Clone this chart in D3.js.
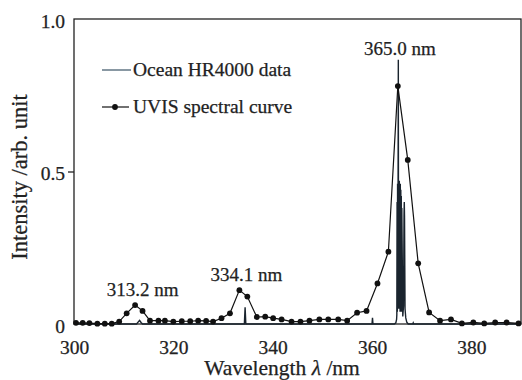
<!DOCTYPE html>
<html>
<head>
<meta charset="utf-8">
<script src="https://cdn.jsdelivr.net/npm/d3@7"></script>
<style>
  body { margin: 0; background: #fff; }
  svg text { stroke: #222; stroke-width: 0.25px; }
</style>
</head>
<body>
<svg id="canvas"></svg>
<script>
// UVIS spectral curve (sampled points)
let uvWl = [300.4, 301.75, 303.1, 304.7, 306.2, 307.6, 309.1, 310.6, 312.3, 313.8,
            315.3, 317.0, 318.3, 320.0, 321.7, 323.4, 325.0, 326.6, 328.0, 329.7,
            331.4, 333.3, 334.9, 336.8, 338.5, 340.1, 341.8, 343.8, 345.6, 347.4,
            349.4, 351.2, 353.2, 355.0, 357.0, 358.9, 361.1, 363.3, 365.2, 367.2,
            369.3, 371.5, 373.7, 375.9, 378.1, 380.4, 382.6, 384.8, 387.1, 389.5];
let uvInt = [0.004, 0.004, 0.003, 0.001, 0.001, 0.001, 0.008, 0.035, 0.062, 0.043,
             0.011, 0.011, 0.011, 0.008, 0.009, 0.009, 0.011, 0.010, 0.008, 0.019,
             0.035, 0.111, 0.090, 0.023, 0.024, 0.019, 0.015, 0.008, 0.008, 0.011,
             0.015, 0.015, 0.015, 0.011, 0.037, 0.043, 0.133, 0.237, 0.780, 0.538,
             0.199, 0.038, 0.011, 0.015, 0.002, 0.005, 0.002, 0.005, 0.005, 0.002];

// Ocean HR4000 data
let hrWl = [300, 312.6, 312.9, 313.2, 313.5, 313.8, 334.3, 334.45, 334.6, 360.0,
            360.1, 360.2, 364.5, 364.8, 364.95, 365.0, 365.05, 365.1, 365.15, 365.2,
            365.25, 365.3, 365.35, 365.4, 365.45, 365.5, 365.55, 365.6, 365.65, 365.7,
            365.75, 365.8, 365.85, 365.9, 365.95, 366.0, 366.2, 366.35, 366.45, 366.5,
            366.55, 366.65, 366.8, 367.0, 367.3, 368.2, 368.3, 368.4, 390];
let hrInt = [0, 0, 0.006, 0.012, 0.005, 0, 0, 0.055, 0, 0,
             0.02, 0, 0, 0.004, 0.015, 0.03, 0.40, 0.04, 0.46, 0.05,
             0.45, 0.866, 0.05, 0.46, 0.06, 0.47, 0.05, 0.45, 0.04, 0.46,
             0.05, 0.44, 0.04, 0.42, 0.04, 0.38, 0.025, 0.06, 0.36, 0.40,
             0.35, 0.05, 0.02, 0.006, 0, 0, 0.004, 0, 0];

let xTicks = [300, 320, 340, 360, 380];
let yTicks = [0, 0.5, 1.0];

let peakLabels = ["313.2 nm", "334.1 nm", "365.0 nm"];
let peakWl = [313.2, 334.1, 365.0];
let peakY = [0.092, 0.141, 0.882];

let legendNames = ["Ocean HR4000 data", "UVIS spectral curve"];

let width = 522;
let height = 380;
let plotLeft = 74, plotRight = 521, plotTop = 19, plotBottom = 324;
let serif = "'Liberation Serif', 'DejaVu Serif', serif";

let canvas = d3.select("#canvas")
canvas.attr("width", width)
canvas.attr("height", height)

let xScale = d3.scaleLinear().domain([300, 390]).range([plotLeft, plotRight])
let yScale = d3.scaleLinear().domain([0, 1]).range([plotBottom, plotTop])

let hrColor = "#1a242e";

let drawFrame = () => {
    canvas.append("rect")
          .attr("x", plotLeft)
          .attr("y", plotTop)
          .attr("width", plotRight - plotLeft)
          .attr("height", plotBottom - plotTop)
          .attr("fill", "none")
          .attr("stroke", "#222")
          .attr("stroke-width", 1.3)
}

let drawAxes = () => {
    let xAxis = d3.axisBottom(xScale)
                  .tickValues(xTicks)
                  .tickSize(0)
                  .tickPadding(16)
                  .tickFormat(d3.format("d"))
    let yAxis = d3.axisLeft(yScale)
                  .tickValues(yTicks)
                  .tickSize(6)
                  .tickPadding(3)
                  .tickFormat(d => d === 0 ? "0" : d.toFixed(1))

    let gx = canvas.append("g")
          .attr("transform", "translate(0," + plotBottom + ")")
          .call(xAxis)
    let gy = canvas.append("g")
          .attr("transform", "translate(" + plotLeft + ",0)")
          .call(yAxis)

    for (let g of [gx, gy]) {
        g.attr("font-family", serif).attr("font-size", 19.5)
        g.select(".domain").remove()
        g.selectAll("text").attr("fill", "#222")
    }
    gy.selectAll("text").attr("dy", "0.42em")
    gy.selectAll(".tick line")
      .attr("stroke", "#222")
      .attr("stroke-width", 1.3)
      .filter(d => d !== 0.5)
      .remove()

    canvas.append("text")
          .attr("x", 282)
          .attr("y", 375)
          .attr("text-anchor", "middle")
          .attr("font-family", serif)
          .attr("font-size", 21.5)
          .attr("fill", "#222")
          .html("Wavelength <tspan font-style='italic'>λ</tspan> /nm")

    canvas.append("text")
          .attr("transform", "translate(27,177) rotate(-90)")
          .attr("text-anchor", "middle")
          .attr("font-family", serif)
          .attr("font-size", 22.5)
          .attr("fill", "#222")
          .text("Intensity /arb. unit")
}

let drawLines = () => {
    let hrData = hrWl.map((w, i) => [w, hrInt[i]])
    let uvData = uvWl.map((w, i) => [w, uvInt[i]])

    let line = d3.line()
                 .x(d => xScale(d[0]))
                 .y(d => yScale(d[1]))

    canvas.append("path")
          .datum(hrData)
          .attr("fill", "none")
          .attr("stroke", hrColor)
          .attr("stroke-width", 1.4)
          .attr("d", line)

    canvas.append("path")
          .datum(uvData)
          .attr("fill", "none")
          .attr("stroke", "#111")
          .attr("stroke-width", 1.2)
          .attr("d", line)

    canvas.selectAll("circle.uv")
          .data(uvData)
          .enter()
          .append("circle")
          .attr("class", "uv")
          .attr("cx", d => xScale(d[0]))
          .attr("cy", d => yScale(d[1]))
          .attr("r", 2.9)
          .attr("fill", "#111")
}

let drawLabels = () => {
    canvas.selectAll("text.peak")
          .data(peakLabels)
          .enter()
          .append("text")
          .attr("class", "peak")
          .attr("x", (d, i) => xScale(peakWl[i]) + 3)
          .attr("y", (d, i) => yScale(peakY[i]))
          .attr("text-anchor", "middle")
          .attr("font-family", serif)
          .attr("font-size", 19)
          .attr("fill", "#222")
          .text(d => d)
}

let drawLegend = () => {
    canvas.append("line")
          .attr("x1", 102).attr("x2", 131)
          .attr("y1", 70).attr("y2", 70)
          .attr("stroke", "#3a5265")
          .attr("stroke-width", 1.2)
    canvas.append("line")
          .attr("x1", 102).attr("x2", 129)
          .attr("y1", 107).attr("y2", 107)
          .attr("stroke", "#111")
          .attr("stroke-width", 1.2)
    canvas.append("circle")
          .attr("cx", 115).attr("cy", 107)
          .attr("r", 2.9)
          .attr("fill", "#111")

    canvas.selectAll("text.legend")
          .data(legendNames)
          .enter()
          .append("text")
          .attr("class", "legend")
          .attr("x", 133)
          .attr("y", (d, i) => 76 + i * 37)
          .attr("font-family", serif)
          .attr("font-size", 19.5)
          .attr("fill", "#222")
          .text(d => d)
}

drawFrame();
drawLines();
drawAxes();
drawLabels();
drawLegend();
</script>
</body>
</html>
